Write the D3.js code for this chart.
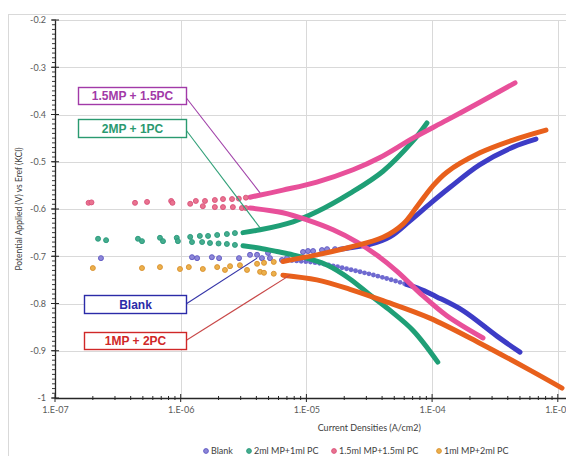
<!DOCTYPE html>
<html>
<head>
<meta charset="utf-8">
<script src="https://cdn.jsdelivr.net/npm/d3@7"></script>
<style>
  html, body { margin: 0; padding: 0; background: #fff; }
  svg { display: block; font-family: Lato, "Liberation Sans", sans-serif; }
</style>
</head>
<body>
<svg id="chart" width="566" height="456"></svg>
<script>
// ---- Tafel polarisation readings: [current density (A/cm2), potential (V)] ----

// Blank
const blankDots = [[2.32e-7,-0.704],[1.23e-6,-0.702],[1.35e-6,-0.704],[1.77e-6,-0.702],[2.02e-6,-0.704],
  [2.91e-6,-0.704],[3.56e-6,-0.697],[4.05e-6,-0.697],[4.43e-6,-0.704],[4.95e-6,-0.693],[5.13e-6,-0.704],
  [6.39e-6,-0.708],[7.01e-6,-0.704],[9.4e-6,-0.691],[1.03e-5,-0.689],[1.13e-5,-0.689],[1.33e-5,-0.687],
  [1.46e-5,-0.685],[1.69e-5,-0.685]];
const blankAnodic = [[1.85e-5,-0.685],[2.22e-5,-0.682],[3.21e-5,-0.675],[4.62e-5,-0.659],[6.67e-5,-0.625],
  [9.6e-5,-0.589],[1.39e-4,-0.554],[2.4e-4,-0.506],[4.4e-4,-0.469],[6.7e-4,-0.452]];
const blankCathodic = [[6.5e-6,-0.708],[1.21e-5,-0.714],[2.22e-5,-0.728],[4.07e-5,-0.745],[7.6e-5,-0.767],
  [1.09e-4,-0.786],[1.76e-4,-0.815],[3.28e-4,-0.869],[5.0e-4,-0.903]];

// 2ml MP + 1ml PC
const tealDots = [[2.2e-7,-0.663],[2.55e-7,-0.666],[4.57e-7,-0.663],[4.92e-7,-0.668],[6.84e-7,-0.661],
  [7.23e-7,-0.668],[9.3e-7,-0.661],[9.5e-7,-0.668],[1.19e-6,-0.659],[1.23e-6,-0.670],[1.42e-6,-0.657],
  [1.48e-6,-0.670],[1.65e-6,-0.657],[1.71e-6,-0.672],[1.95e-6,-0.655],[2.0e-6,-0.673],[2.33e-6,-0.653],
  [2.33e-6,-0.674],[2.7e-6,-0.651],[2.7e-6,-0.676]];
const tealAnodic = [[3.13e-6,-0.650],[4.28e-6,-0.644],[7.82e-6,-0.627],[1.21e-5,-0.606],[2.22e-5,-0.567],
  [4.07e-5,-0.520],[7.05e-5,-0.456],[9.1e-5,-0.418]];
const tealCathodic = [[3.13e-6,-0.678],[4.28e-6,-0.683],[5.83e-6,-0.690],[7.82e-6,-0.697],[1.07e-5,-0.706],
  [1.5e-5,-0.720],[2.22e-5,-0.748],[3.21e-5,-0.782],[4.5e-5,-0.812],[7.05e-5,-0.857],[1.11e-4,-0.924]];

// 1.5ml MP + 1.5ml PC
const pinkDots = [[1.85e-7,-0.587],[1.95e-7,-0.586],[4.33e-7,-0.587],[5.4e-7,-0.585],[8.4e-7,-0.583],
  [8.6e-7,-0.587],[1.19e-6,-0.589],[1.32e-6,-0.583],[1.5e-6,-0.594],[1.56e-6,-0.583],[1.87e-6,-0.581],
  [1.87e-6,-0.596],[2.17e-6,-0.579],[2.17e-6,-0.596],[2.56e-6,-0.579],[2.6e-6,-0.596],[2.9e-6,-0.578],
  [3.07e-6,-0.598],[3.3e-6,-0.576],[3.3e-6,-0.598]];
const pinkAnodic = [[3.56e-6,-0.575],[6.5e-6,-0.560],[1.21e-5,-0.543],[2.35e-5,-0.517],[3.85e-5,-0.491],
  [7.05e-5,-0.450],[1.31e-4,-0.412],[2.4e-4,-0.374],[4.57e-4,-0.333]];
const pinkCathodic = [[3.56e-6,-0.598],[6.5e-6,-0.608],[1.01e-5,-0.623],[1.63e-5,-0.644],[2.53e-5,-0.670],
  [3.65e-5,-0.698],[5.26e-5,-0.732],[8.47e-5,-0.784],[1.31e-4,-0.826],[2.54e-4,-0.873]];

// 1ml MP + 2ml PC
const orangeDots = [[2.0e-7,-0.725],[4.92e-7,-0.725],[6.84e-7,-0.723],[9.87e-7,-0.727],[1.16e-6,-0.723],
  [1.5e-6,-0.727],[1.95e-6,-0.723],[2.25e-6,-0.729],[2.47e-6,-0.721],[2.96e-6,-0.719],[3.37e-6,-0.729],
  [4.05e-6,-0.716],[4.28e-6,-0.733],[4.6e-6,-0.714],[4.6e-6,-0.735],[5.5e-6,-0.712],[5.5e-6,-0.737]];
const orangeAnodic = [[6.5e-6,-0.711],[1.21e-5,-0.697],[2.22e-5,-0.681],[4.07e-5,-0.660],[5.87e-5,-0.632],
  [7.72e-5,-0.592],[1.0e-4,-0.553],[1.31e-4,-0.522],[2.4e-4,-0.481],[4.4e-4,-0.454],[8.05e-4,-0.433]];
const orangeCathodic = [[6.5e-6,-0.740],[1.21e-5,-0.750],[2.22e-5,-0.770],[4.07e-5,-0.794],[9.6e-5,-0.831],
  [2.4e-4,-0.884],[6.0e-4,-0.941],[1.08e-3,-0.979]];

// Legend names and axis ticks
const seriesNames = ["Blank", "2ml MP+1ml PC", "1.5ml MP+1.5ml PC", "1ml MP+2ml PC"];
const xTicks = [1e-7, 1e-6, 1e-5, 1e-4, 1e-3, 1e-2];
const yTicks = [-1, -0.9, -0.8, -0.7, -0.6, -0.5, -0.4, -0.3, -0.2];

// Callout labels and the point on each curve their leader lines reach
const calloutLabels = ["1.5MP + 1.5PC", "2MP + 1PC", "Blank", "1MP + 2PC"];
const calloutAnchors = [[4.28e-6,-0.566],[4.28e-6,-0.640],[4.05e-6,-0.704],[7.4e-6,-0.740]];

// ---- styles ----
const styles = [
  { fill: "#8d87d8", stroke: "#5b55c2", band: "#3d3cc6", sparse: "#6f6ad0" },
  { fill: "#45ad8e", stroke: "#26977a", band: "#1f9f76", sparse: "#2f9f80" },
  { fill: "#e9738f", stroke: "#d9507a", band: "#e8509a", sparse: "#e0607f" },
  { fill: "#ebb04c", stroke: "#d9902c", band: "#e8601c", sparse: "#e3a040" }
];
// where each branch turns from a string of separate markers into a solid band
const solidFrom = [[0, 6e-5], [0, 0], [0, 0], [0, 0]];

const calloutColors = ["#a23aa8", "#2a9a70", "#2b2ba8", "#d02828"];
const calloutLeader = ["#a040a8", "#30a078", "#3535a8", "#c84848"];
const calloutBoxes = [
  { x: 78, y: 87, w: 108, h: 17 },
  { x: 78, y: 119, w: 108, h: 18 },
  { x: 84, y: 295, w: 102, h: 18 },
  { x: 84, y: 332, w: 102, h: 17 }
];

const W = 566, H = 456;
const svg = d3.select("#chart");

// chart frame
svg.append("rect").attr("x", 8.5).attr("y", 14.5).attr("width", 720).attr("height", 520)
  .attr("fill", "#fff").attr("stroke", "#d9d9d9");

const x = d3.scaleLog().domain([1e-7, 1e-2]).range([55, 683.5]);
const y = d3.scaleLinear().domain([-1, -0.2]).range([398, 20]);

// gridlines
const grid = svg.append("g");
grid.selectAll("line.h").data(yTicks.filter(v => v > -1)).join("line")
  .attr("x1", x(1e-7)).attr("x2", x(1e-2))
  .attr("y1", d => Math.round(y(d)) + 0.5).attr("y2", d => Math.round(y(d)) + 0.5)
  .attr("stroke", "#d9d9d9");
grid.selectAll("line.v").data(xTicks.filter(v => v > 1e-7)).join("line")
  .attr("x1", d => Math.round(x(d)) + 0.5).attr("x2", d => Math.round(x(d)) + 0.5)
  .attr("y1", y(-0.2)).attr("y2", y(-1))
  .attr("stroke", "#d9d9d9");

// series
const series = [
  { dots: blankDots, branches: [blankAnodic, blankCathodic] },
  { dots: tealDots, branches: [tealAnodic, tealCathodic] },
  { dots: pinkDots, branches: [pinkAnodic, pinkCathodic] },
  { dots: orangeDots, branches: [orangeAnodic, orangeCathodic] }
];

const line = d3.line().x(d => x(d[0])).y(d => y(d[1])).curve(d3.curveCatmullRom.alpha(0.5));
const defs = svg.append("defs");

const plot = svg.append("g");
series.forEach((s, i) => {
  const st = styles[i];
  const g = plot.append("g");
  s.branches.forEach((b, j) => {
    const split = solidFrom[i][j];
    if (split > b[0][0]) {
      const cx = x(split);
      const idA = `sp${i}${j}a`, idB = `sp${i}${j}b`;
      defs.append("clipPath").attr("id", idA).append("rect")
        .attr("x", 0).attr("y", 0).attr("width", cx).attr("height", H);
      defs.append("clipPath").attr("id", idB).append("rect")
        .attr("x", cx).attr("y", 0).attr("width", W * 2).attr("height", H);
      // separate markers before the split
      g.append("path").datum(b).attr("d", line).attr("clip-path", `url(#${idA})`)
        .attr("fill", "none").attr("stroke", st.sparse)
        .attr("stroke-width", 4.8).attr("stroke-linecap", "round")
        .attr("stroke-dasharray", "0 4.6");
      g.append("path").datum(b).attr("d", line).attr("clip-path", `url(#${idB})`)
        .attr("fill", "none").attr("stroke", st.band)
        .attr("stroke-width", 5).attr("stroke-linecap", "round").attr("stroke-linejoin", "round");
    } else {
      g.append("path").datum(b).attr("d", line)
        .attr("fill", "none").attr("stroke", st.band)
        .attr("stroke-width", 5).attr("stroke-linecap", "round").attr("stroke-linejoin", "round");
    }
  });
  g.selectAll("circle").data(s.dots).join("circle")
    .attr("cx", d => x(d[0])).attr("cy", d => y(d[1])).attr("r", 2.5)
    .attr("fill", st.fill).attr("stroke", st.stroke).attr("stroke-width", 0.9);
});

// axes
const axisColor = "#262626";
const labelColor = "#595959";

const xMinor = [];
for (let e = -7; e < -2; e++) for (let m = 2; m <= 9; m++) xMinor.push(m * Math.pow(10, e));
const yMinor = d3.range(0, 81).map(k => -1 + k * 0.01);

const xAxisG = svg.append("g").attr("transform", `translate(0,${y(-1)})`);
xAxisG.call(d3.axisBottom(x).tickValues(xTicks).tickSize(0).tickPadding(0)
  .tickFormat(d => "1.E-" + String(-Math.round(Math.log10(d))).padStart(2, "0")));
xAxisG.select(".domain").attr("stroke", axisColor).attr("stroke-width", 1.3);
xAxisG.selectAll(".tick text").attr("y", 9).attr("fill", labelColor)
  .attr("font-size", 9).attr("font-family", "Lato, sans-serif")
  .attr("display", d => x(d) > W + 20 ? "none" : null);
xAxisG.selectAll("line.major").data(xTicks).join("line").attr("class", "major")
  .attr("x1", d => x(d)).attr("x2", d => x(d)).attr("y1", -4).attr("y2", 4)
  .attr("stroke", axisColor);
xAxisG.selectAll("line.minor").data(xMinor).join("line").attr("class", "minor")
  .attr("x1", d => x(d)).attr("x2", d => x(d)).attr("y1", -2).attr("y2", 2)
  .attr("stroke", axisColor);

const yAxisG = svg.append("g").attr("transform", `translate(${x(1e-7)},0)`);
yAxisG.call(d3.axisLeft(y).tickValues(yTicks).tickSize(0).tickPadding(9)
  .tickFormat(d => String(Math.round(d * 10) / 10)));
yAxisG.select(".domain").attr("stroke", axisColor).attr("stroke-width", 1.3);
yAxisG.selectAll(".tick text").attr("fill", labelColor)
  .attr("font-size", 9).attr("font-family", "Lato, sans-serif");
yAxisG.selectAll("line.major").data(yTicks).join("line").attr("class", "major")
  .attr("y1", d => y(d)).attr("y2", d => y(d)).attr("x1", -4).attr("x2", 4)
  .attr("stroke", axisColor);
yAxisG.selectAll("line.minor").data(yMinor).join("line").attr("class", "minor")
  .attr("y1", d => y(d)).attr("y2", d => y(d)).attr("x1", -3).attr("x2", 1)
  .attr("stroke", axisColor).attr("stroke-width", 0.9);

// axis titles
svg.append("text").attr("x", (x(1e-7) + x(1e-2)) / 2).attr("y", 431)
  .attr("text-anchor", "middle").attr("font-size", 9).attr("fill", "#404040")
  .text("Current Densities (A/cm2)");
svg.append("text").attr("transform", `translate(22,${(y(-0.2) + y(-1)) / 2}) rotate(-90)`)
  .attr("text-anchor", "middle").attr("font-size", 8.5).attr("fill", "#404040")
  .text("Potential Applied (V) vs Eref (KCl)");

// callouts
const callouts = svg.append("g");
calloutLabels.forEach((lab, i) => {
  const b = calloutBoxes[i];
  const a = calloutAnchors[i];
  callouts.append("line")
    .attr("x1", b.x + b.w).attr("y1", b.y + b.h / 2 + (i < 2 ? 2 : 0))
    .attr("x2", x(a[0])).attr("y2", y(a[1]))
    .attr("stroke", calloutLeader[i]).attr("stroke-width", 1.1);
  callouts.append("rect").attr("x", b.x + 0.5).attr("y", b.y + 0.5)
    .attr("width", b.w).attr("height", b.h)
    .attr("fill", "#fff").attr("stroke", calloutColors[i]).attr("stroke-width", 1.4);
  callouts.append("text").attr("x", b.x + b.w / 2 + 0.5).attr("y", b.y + b.h / 2 + 0.5)
    .attr("dy", "0.36em").attr("text-anchor", "middle")
    .attr("font-family", "'Liberation Sans', Arial, sans-serif").attr("font-weight", "bold")
    .attr("font-size", 12).attr("fill", calloutColors[i]).text(lab);
});

// legend
const legendX = [206, 249, 334, 439];
const legend = svg.append("g").attr("transform", "translate(0,451)");
seriesNames.forEach((n, i) => {
  legend.append("circle").attr("cx", legendX[i]).attr("cy", 0).attr("r", 2.4)
    .attr("fill", styles[i].fill).attr("stroke", styles[i].stroke).attr("stroke-width", 0.9);
  legend.append("text").attr("x", legendX[i] + 5).attr("y", 0).attr("dy", "0.35em")
    .attr("font-size", 9).attr("fill", "#404040").text(n);
});
</script>
</body>
</html>
